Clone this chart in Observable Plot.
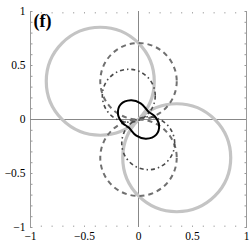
<!DOCTYPE html>
<html><head><meta charset="utf-8">
<script src="https://cdn.jsdelivr.net/npm/d3@7"></script>
<script src="https://cdn.jsdelivr.net/npm/@observablehq/plot@0.6"></script>
<style>body{margin:0;background:#fff}svg{display:block}</style>
</head><body><div id="chart"></div>
<script>
// Tick labels / values
const majorTicks = [-1, -0.5, 0, 0.5, 1];
const majorLabels = ["\u22121", "\u22120.5", "0", "0.5", "1"];
const minorTicks = [-1, -0.9, -0.8, -0.7, -0.6, -0.5, -0.4, -0.3, -0.2, -0.1, 0, 0.1, 0.2, 0.3, 0.4, 0.5, 0.6, 0.7, 0.8, 0.9, 1];
const panelLabel = "(f)";

// Circles (center x, center y, radius)
const thickCircles = [
  {cx: -0.354, cy: 0.354, r: 0.5},
  {cx: 0.354, cy: -0.354, r: 0.5}
];
const dashedCircles = [
  {cx: 0, cy: 0.354, r: 0.354},
  {cx: 0, cy: -0.354, r: 0.354}
];
const dashDotCircles = [
  {cx: -0.09, cy: 0.22, r: 0.245},
  {cx: 0.09, cy: -0.22, r: 0.245}
];

// Peanut-shaped closed curve
const peanutX = [-0.07, 0.02, 0.09, 0.15, 0.19, 0.165, 0.07, -0.02, -0.09, -0.15, -0.19, -0.165];
const peanutY = [0.178, 0.15, 0.075, 0.03, -0.05, -0.14, -0.178, -0.15, -0.075, -0.03, 0.05, 0.14];
const peanut = peanutX.map((x, i) => ({x, y: peanutY[i]}));

const W = 249, H = 249, mL = 30, mR = 3, mT = 11, mB = 22;
const halfSpan = (W - mL - mR) / 2;
const fmt = d => majorLabels[majorTicks.indexOf(d)];

const chart = Plot.plot({
  width: W, height: H,
  marginLeft: mL, marginRight: mR, marginTop: mT, marginBottom: mB,
  style: {fontFamily: "'Liberation Serif', 'DejaVu Serif', serif", fontSize: "11.5px", background: "#fff", color: "#000"},
  x: {domain: [-1, 1]},
  y: {domain: [-1, 1]},
  r: {type: "linear", domain: [0, 1], range: [0, halfSpan]},
  marks: [
    // minor ticks on frame
    Plot.axisY({anchor: "left", ticks: minorTicks, tickSize: -2.5, text: null, stroke: "#999", label: null}),
    Plot.axisY({anchor: "right", ticks: minorTicks, tickSize: -2.5, text: null, stroke: "#999", label: null}),
    Plot.axisX({anchor: "top", ticks: minorTicks, tickSize: -1.5, text: null, stroke: "#aaa", label: null}),
    Plot.axisX({anchor: "bottom", ticks: minorTicks, tickSize: -1.5, text: null, stroke: "#aaa", label: null}),
    // labels
    Plot.axisY({anchor: "left", ticks: majorTicks, tickFormat: fmt, tickSize: 0, tickPadding: 5, label: null}),
    Plot.axisX({anchor: "bottom", ticks: majorTicks, tickFormat: fmt, tickSize: 0, tickPadding: 4, label: null}),
    // frame sides and axes
    Plot.ruleX([-1, 1], {stroke: "#999", strokeWidth: 1}),
    Plot.ruleX([0], {stroke: "#888", strokeWidth: 1}),
    Plot.ruleY([0], {stroke: "#888", strokeWidth: 1}),
    // curves
    Plot.dot(thickCircles, {x: "cx", y: "cy", r: "r", stroke: "#c4c4c4", strokeWidth: 3.2, fill: "none"}),
    Plot.dot(dashedCircles, {x: "cx", y: "cy", r: "r", stroke: "#707070", strokeWidth: 2, strokeDasharray: "5,4", fill: "none"}),
    Plot.dot(dashDotCircles, {x: "cx", y: "cy", r: "r", stroke: "#4a4a4a", strokeWidth: 1.6, strokeDasharray: "4,3,1.5,3", fill: "none"}),
    Plot.line(peanut, {x: "x", y: "y", curve: "catmull-rom-closed", stroke: "#000", strokeWidth: 2}),
    Plot.text([panelLabel], {frameAnchor: "top-left", dx: 3, dy: 3, textAnchor: "start", lineAnchor: "top", fontWeight: "bold", fontSize: 18})
  ]
});
document.getElementById("chart").appendChild(chart);
</script>
</body></html>
